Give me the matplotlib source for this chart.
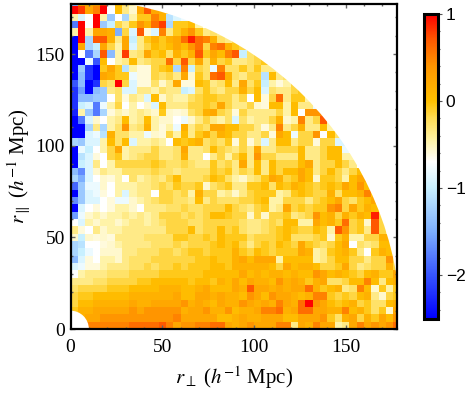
import numpy as np
import matplotlib
matplotlib.use("Agg")
import matplotlib.pyplot as plt
from matplotlib.colors import LinearSegmentedColormap
from matplotlib.patches import Circle
from matplotlib.ticker import MultipleLocator

plt.rcParams['font.family'] = ['Liberation Serif', 'DejaVu Serif']
plt.rcParams['mathtext.fontset'] = 'stix'

# Values in tenths, one list per row of 4 Mpc bins (row 0 is at r_par = 0)
r00 = [3,3,5,5,5,5,5,5,6,6,6,6,7,5,3,4,4,5,5,6,6,3,2,3,4,3,3,3,5,5,-3,3,2,5,3,3,-4,-3,3,5,3,4,3,4,6]
r01 = [2,2,3,3,4,4,4,4,4,4,4,4,4,4,5,3,3,3,3,3,1,1,2,3,2,2,3,3,3,1,1,3,3,3,4,0,-2,2,3,-1,2,0,3,1,4]
r02 = [0,2,2,3,3,3,3,3,4,3,4,4,4,4,4,2,3,3,4,2,2,4,1,2,2,3,5,5,6,2,3,6,6,3,3,2,2,5,1,2,0,-2,0,-5,3]
r03 = [-1,1,1,2,2,2,2,2,3,2,2,3,3,3,3,4,2,3,2,1,3,2,2,4,3,2,3,2,5,3,2,6,10,4,3,1,0,1,2,-1,0,-2,-2,1,2]
r04 = [-1,0,0,1,1,1,1,1,2,2,2,2,2,2,3,1,1,3,3,2,3,2,2,1,4,3,1,4,3,3,2,1,2,5,5,0,-1,0,-1,1,2,-3,-5,-1,0]
r05 = [-2,-1,-1,-1,-1,0,0,0,1,1,1,1,2,2,2,1,1,2,3,1,1,1,3,2,7,3,3,2,3,2,3,3,6,2,0,1,2,-3,-2,5,1,-5,0,-4,0]
r06 = [-3,-3,-3,-2,-2,-1,-1,-1,-1,0,0,1,1,1,1,1,0,1,1,0,2,1,3,1,3,2,2,1,4,2,3,2,0,2,3,-2,-2,-1,1,1,5,1,-3,1,2]
r07 = [-7,-4,-3,-3,-3,-2,-2,-2,-1,-1,-1,-1,0,0,0,0,0,0,1,1,1,1,1,3,1,2,1,2,2,1,2,1,1,4,3,1,2,1,0,-1,1,2,0,0,3]
r08 = [-9,-8,-6,-6,-4,-3,-3,-3,-2,-2,-1,-2,-1,-1,0,-1,0,0,0,1,1,0,2,2,2,2,2,1,-1,3,1,2,2,1,-1,-1,0,3,-1,-3,-2,-1,-1,2,-1]
r09 = [-14,-9,-6,-7,-4,-4,-5,-3,-2,-2,-2,-1,-1,-1,-1,-1,-1,0,0,1,0,0,2,3,1,3,3,3,-4,1,1,1,1,-4,-3,-1,1,1,-1,-1,-3,-1,-1,4,-1]
r10 = [-12,-10,-8,-7,-5,-5,-5,-3,-3,-2,-2,-2,-1,-1,-2,-1,0,0,-1,0,0,0,2,0,-1,1,0,-1,0,0,0,3,2,-4,-3,0,1,2,0,-3,-7,0,2,1,-3]
r11 = [-12,-11,-7,-7,-6,-5,-4,-3,-3,-3,-3,-2,-2,-2,-1,-2,-1,-1,-1,0,1,0,1,-1,-3,-1,0,-1,1,0,-1,3,0,-1,-2,-1,1,3,-7,-2,-3,-2,1,1,-6]
r12 = [-5,-10,-5,-6,-5,-6,-3,-3,-3,-3,-2,-2,-2,-2,0,0,-1,-1,0,-1,1,0,0,0,-2,-1,-1,-1,0,1,-2,-2,-2,-1,0,-5,0,2,-4,-4,-1,-1,2,2]
r13 = [-3,-6,-7,-3,-5,-4,-4,-3,-3,-3,-3,-3,-3,-1,-1,-1,1,-2,-1,-1,1,-1,0,-2,-3,-3,-2,-1,0,1,0,-1,-1,1,0,-4,7,4,-1,0,-3,7,-1,-3]
r14 = [-7,-9,-4,-5,-4,-4,-5,-4,-3,-3,-4,-3,-2,-1,-1,-1,-2,-2,-1,-1,-1,-1,-1,-2,-3,-3,-2,-1,-2,1,1,-4,-4,3,1,2,0,6,-1,0,-5,7,-1]
r15 = [-16,-8,-5,-4,-5,-4,-4,-3,-4,-3,-4,-3,-1,-1,-1,-2,-1,-2,-1,1,1,0,-1,-1,-5,-1,-5,-1,-1,0,-3,-2,-1,4,1,2,-1,2,0,2,1,9,-1]
r16 = [-25,-9,-7,-6,-7,-6,-4,-4,-5,-7,-3,-3,-3,-2,-2,-1,-2,-2,-1,-1,-1,1,-1,-2,-3,-1,0,-4,-3,3,-1,0,-1,0,0,4,5,-1,3,0,2,1,-1]
r17 = [-17,-13,-9,-9,-7,-6,-8,-8,-5,-4,-3,-2,-1,-1,-2,-2,-3,1,-3,-1,-2,-2,-2,-1,-1,0,1,-4,-4,-1,-1,-1,-3,-1,0,1,3,-1,-2,0,1,3,0]
r18 = [-25,-13,-9,-8,-6,-7,-4,-9,-4,-3,-3,-7,-1,-1,-2,-1,-4,2,-1,-1,-4,-3,-5,-3,-1,0,0,0,-4,-3,0,1,0,-1,-1,2,-2,1,1,2,5,1]
r19 = [-19,-13,-8,-8,-5,-7,-4,-4,-4,-3,-3,-2,-1,-2,0,-1,-1,0,-5,-2,-1,0,-3,-3,0,0,1,-2,1,0,2,1,0,-1,0,1,0,3,1,4,1]
r20 = [-12,-15,-9,-7,-5,-6,-4,-7,-2,-4,-3,-2,-3,-1,1,-2,-2,-2,-1,1,0,-2,-4,-5,-3,-2,0,3,2,-1,0,3,1,-5,0,0,-1,-4,1,3,3]
r21 = [-14,-17,-9,-5,-3,-4,-4,-2,-2,-2,-2,-1,-2,-2,-3,-2,-2,-2,-2,0,-1,0,-3,-1,-2,1,-3,1,-1,1,1,3,1,-3,-1,1,-1,-3,-1,1]
r22 = [-25,-10,-9,-3,-7,-4,-1,-1,-1,-1,-1,0,-1,-2,-2,-1,-2,-3,-3,0,-2,-1,-3,3,-3,1,-3,1,-1,-1,-1,1,3,-3,-1,-1,1,-1,-3]
r23 = [-25,-11,-9,-6,-7,-1,0,-4,-3,-2,-1,-1,-3,-3,-2,2,-3,-3,-7,-3,-1,-4,-1,1,-3,4,-1,-1,-3,-3,-3,1,-3,-3,-1,1,1,-4,-4]
r24 = [-25,-8,-10,-7,-4,-1,3,-4,-3,-3,-3,-1,-3,-3,-2,3,-3,-3,-2,1,-1,-2,-3,-1,-3,3,-3,-3,-1,-1,-1,1,-3,-3,-1,1,1,-8]
r25 = [-12,-13,-9,-9,-4,1,-2,1,-9,-4,-4,-3,-4,-7,1,0,1,2,-2,-1,-2,0,-6,-1,-6,-3,-9,-3,1,1,-3,-1,-1,-6,-1,-1,-9,-9]
r26 = [-25,-25,-9,-8,-11,2,-2,-2,-4,-4,-8,-5,-6,-1,-4,1,-3,0,2,-1,2,1,-1,-1,-3,-3,-1,-6,3,1,-8,-1,-1,4,-7,1,-2]
r27 = [-25,-25,-12,-3,-12,-4,-2,4,-3,-2,2,-4,-6,-4,-8,2,-3,-1,-2,3,3,1,1,-1,-1,-3,-6,-3,5,-3,-1,2,-3,-3,1,-4,-6]
r28 = [-25,-18,-9,-5,-7,-4,-3,1,-4,-3,1,-4,-5,-5,-7,-8,-5,-3,-1,-3,-4,-2,-9,-2,-4,-3,-3,-1,2,-5,-4,5,-3,-1,7,-4]
r29 = [-23,-4,-13,-18,-12,-6,-4,-5,-4,-3,-4,-5,0,-5,-6,-5,-2,-1,2,3,-1,-2,-6,-1,-3,-3,-3,-3,-1,-4,1,-7,4,4,5]
r30 = [-22,-10,-9,-18,-8,-4,-1,-7,-4,-7,-5,-9,1,-3,-3,-3,-1,-1,0,-1,3,-1,-3,-3,-1,-5,-6,1,1,-4,1,-3,-3,-8]
r31 = [-22,-14,-14,-13,-13,-7,-2,-6,-3,-4,-9,1,-5,-3,-4,-4,-2,-1,0,0,-1,-1,-3,-1,-7,1,-6,-1,6,-3,0,0,-4]
r32 = [-22,-16,-25,-14,-13,-3,-2,-9,-9,-3,-3,-4,-2,-3,-3,-10,-9,-2,0,-2,-3,-1,-1,2,-1,1,-9,-2,-3,-3,-1,0]
r33 = [-20,-14,-25,-22,-1,-2,10,-1,-9,-6,-6,-2,-5,-3,3,-6,-6,1,0,-3,-2,1,-3,3,-2,0,-10,-4,-6,-4,-1]
r34 = [-25,-14,-22,-25,3,2,0,0,-8,-6,-6,-1,-2,-1,-3,3,-5,0,-2,6,7,2,-2,-3,-1,-1,-11,1,-3,-2]
r35 = [-25,-13,-22,-25,0,3,0,-11,-4,-6,-6,-1,0,1,-12,5,-10,-1,-2,-8,5,-2,-2,0,-2,0,-3,-3,-4]
r36 = [-25,-25,-8,-20,1,-7,-4,-3,1,-3,-2,-1,-1,6,-1,7,-1,3,-2,2,-1,0,-3,-3,-2,-1,0,0]
r37 = [-25,-7,-18,-12,7,-14,-4,8,-3,-2,3,0,1,-2,2,0,2,7,0,3,1,5,7,-10,-2,-1]
r38 = [-25,3,-12,-10,3,-1,-4,3,-9,-3,-1,1,0,1,3,1,4,6,-1,5,6,2,0,-1,4]
r39 = [-25,10,-12,7,7,2,-3,3,-10,-3,0,2,0,2,3,6,9,6,5,2,-2,-3,-1]
r40 = [-4,10,-4,3,3,2,-15,-1,-9,7,-6,-9,5,-3,0,2,4,0,-3,-2,-3]
r41 = [-18,10,-7,10,-13,-10,-1,-3,0,4,2,6,8,-12,0,0,1,-4]
r42 = [-4,-9,-7,10,-4,-13,-7,-12,-4,0,0,5,2,-11,-9,-8]
r43 = [10,8,3,5,10,-7,1,-3,-5,3,7,3,2,0]
r44 = [-15,3,2,3,8,-6,1,-2,-4,2,3]
rows = [r00,r01,r02,r03,r04,r05,r06,r07,r08,r09,r10,r11,r12,r13,r14,r15,r16,r17,r18,r19,r20,r21,
        r22,r23,r24,r25,r26,r27,r28,r29,r30,r31,r32,r33,r34,r35,r36,r37,r38,r39,r40,r41,r42,r43,r44]
reading_bias = 0.06  # my colour readings of the gold cells came out slightly high

bin_edges = np.arange(46) * 4.0
grid = np.full((45, 45), np.nan)
for i, row in enumerate(rows):
    vals = np.array(row) / 10.0
    vals = np.where((vals > -0.55) & (vals < 0.35), vals - reading_bias, vals)
    grid[i, :len(row)] = vals

stops = [(-2.5,(0,0,255)),(-2.0,(55,85,255)),(-1.5,(125,175,255)),(-1.0,(200,240,255)),(-0.7,(255,255,255)),
         (-0.45,(255,243,165)),(-0.2,(255,220,85)),(0,(255,192,0)),(0.4,(255,150,0)),(0.7,(255,90,0)),(1,(255,0,0))]
cmap = LinearSegmentedColormap.from_list('rb', [((v+2.5)/3.5, tuple(c/255 for c in col)) for v, col in stops], N=512)

W, H = 469, 394
fig = plt.figure(figsize=(W/100, H/100), dpi=100)
ax = fig.add_axes([70.5/W, 1-329/H, 326.5/W, 325.5/H])
mesh = ax.pcolormesh(bin_edges, bin_edges, grid, cmap=cmap, vmin=-2.5, vmax=1, antialiased=False, linewidth=0)
mesh.set_clip_path(Circle((0, 0), 180, transform=ax.transData))
ax.add_patch(Circle((0, 0), 10, fc='white', ec='none', zorder=2))
ax.set_xlim(0, 178)
ax.set_ylim(0, 177.6)
ax.set_aspect('auto')
for s in ax.spines.values():
    s.set_linewidth(1.6)
    s.set_zorder(5)
ax.xaxis.set_major_locator(MultipleLocator(50))
ax.yaxis.set_major_locator(MultipleLocator(50))
ax.xaxis.set_minor_locator(MultipleLocator(10))
ax.yaxis.set_minor_locator(MultipleLocator(10))
ax.tick_params(which='major', direction='in', length=3, width=1, color='#666666', top=True, right=True, labelsize=14, pad=7)
ax.tick_params(which='minor', direction='in', length=1.5, width=1, color='#666666', top=True, right=True)
ax.tick_params(axis='y', which='major', pad=4)
ax.set_xlabel(r'$r_{\perp}$ ($h^{-1}$ Mpc)', fontsize=15, labelpad=6)
ax.set_ylabel(r'$r_{\parallel}$ ($h^{-1}$ Mpc)', fontsize=15, labelpad=2)

cax = fig.add_axes([423.5/W, 1-318.5/H, 14/W, 304.5/H])
cb = fig.colorbar(mesh, cax=cax)
cb.set_ticks([-2, -1, 0, 1])
cb.set_ticklabels(['\u22122', '\u22121', '0', '1'])
cb.ax.yaxis.set_minor_locator(MultipleLocator(0.2))
cb.outline.set_linewidth(2.2)
cb.ax.tick_params(which='major', direction='out', length=3, width=0.8, color='#555555', pad=3)
cb.ax.tick_params(which='minor', direction='out', length=1.5, width=0.8, color='#555555')
for t in cb.ax.get_yticklabels():
    t.set_family(['Liberation Sans', 'DejaVu Sans'])
    t.set_fontsize(12.5)

fig.savefig('out.png', dpi=100, facecolor='white')
